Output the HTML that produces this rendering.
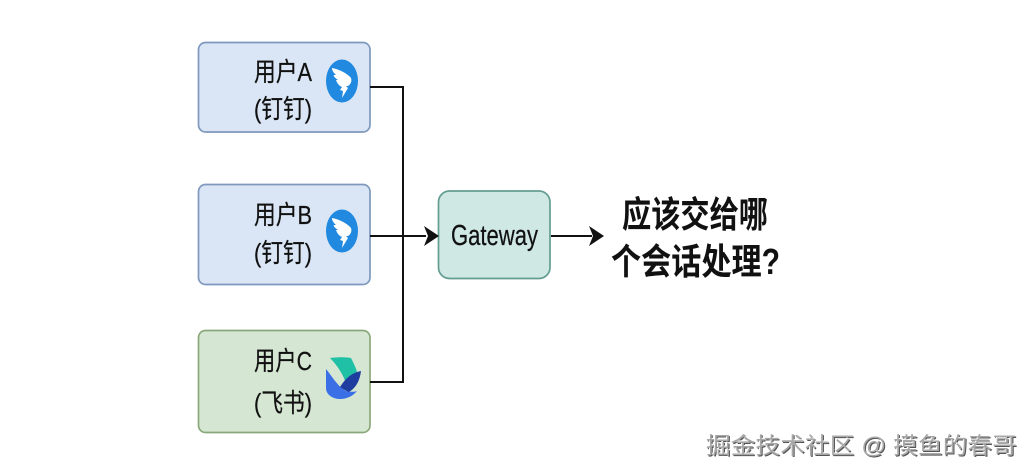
<!DOCTYPE html>
<html><head><meta charset="utf-8">
<style>
html,body{margin:0;padding:0;background:#fff}
svg{display:block;filter:blur(0.35px)}
text{font-family:"Liberation Sans","Noto Sans CJK SC",sans-serif;fill:#111}
.u{stroke:#111;stroke-width:.25px}
</style></head>
<body>
<svg width="1032" height="476" viewBox="0 0 1032 476" xmlns="http://www.w3.org/2000/svg">
<defs>
<g id="ding">
<ellipse cx="0" cy="0" rx="16" ry="21.5" fill="#2189e0"/>
<path d="M-10,-13 C-4,-12 5,-8 9,-3 C10,0 9,3 6,5 L4,5 L6,7 L0,17 L1,10 L-2,9 L0,6 C-3,5 -5,2 -6,-1 L-4,-1 C-7,-3 -9,-5 -8,-6 L-6,-6 C-8,-8 -10,-10 -10,-13Z" fill="#fff"/>
</g>
</defs>
<rect width="1032" height="476" fill="#fff"/>

<rect x="198.5" y="42.5" width="171.5" height="89.5" rx="7" fill="#dae6f5" stroke="#7f98bd" stroke-width="1.7"/>
<rect x="198.5" y="184.5" width="171.5" height="100" rx="7" fill="#dae6f5" stroke="#7f98bd" stroke-width="1.7"/>
<rect x="198.5" y="330.5" width="171.5" height="102" rx="7" fill="#d5e7d2" stroke="#8aa87c" stroke-width="1.7"/>
<rect x="438.5" y="191" width="111.5" height="87.5" rx="11" fill="#cfe8e4" stroke="#639d92" stroke-width="1.7"/>

<path d="M370,87 H403 V382 H370 M370,236 H426 M551,236 H592" fill="none" stroke="#111" stroke-width="2"/>
<path d="M439,236 L424,226 L428,236 L424,246Z" fill="#111"/>
<path d="M604,236 L589,226 L593,236 L589,246Z" fill="#111"/>

<g class="u">
<text class="u" x="254" y="81" font-size="26" textLength="58" lengthAdjust="spacingAndGlyphs">用户A</text>
<text class="u" x="254" y="118" font-size="26" textLength="58" lengthAdjust="spacingAndGlyphs">(钉钉)</text>
<text class="u" x="254" y="224" font-size="26" textLength="58" lengthAdjust="spacingAndGlyphs">用户B</text>
<text class="u" x="254" y="262" font-size="26" textLength="58" lengthAdjust="spacingAndGlyphs">(钉钉)</text>
<text class="u" x="254" y="370" font-size="26" textLength="58" lengthAdjust="spacingAndGlyphs">用户C</text>
<text class="u" x="254" y="412" font-size="26" textLength="58" lengthAdjust="spacingAndGlyphs">(飞书)</text>
</g>

<use href="#ding" x="342" y="81"/>
<use href="#ding" x="342" y="231"/>

<path d="M330,358 C338,357 345,357 351,358 C354,364 356,368 357,372 L347,386 C344,376 338,366 330,358Z" fill="#1fc0a5"/>
<path d="M326,369 C332,376 337,386 346,391 C350,392 354,392 357,391 C353,396 347,399 340,399 C332,399 326,394 326,388Z" fill="#3b6fe6"/>
<path d="M340,387 C345,379 351,373 361,371 C360,380 356,388 349,392 C346,391 343,389 340,387Z" fill="#1f3d9e"/>

<text class="u" x="451" y="245" font-size="29" textLength="87" lengthAdjust="spacingAndGlyphs">Gateway</text>

<text x="622" y="227" font-size="36" font-weight="700" textLength="146" lengthAdjust="spacingAndGlyphs">应该交给哪</text>
<text x="611" y="274" font-size="36" font-weight="700" textLength="169" lengthAdjust="spacingAndGlyphs">个会话处理?</text>

<text x="707" y="454.5" font-size="23" style="fill:#555" textLength="311" lengthAdjust="spacingAndGlyphs">掘金技术社区 @ 摸鱼的春哥</text>
<text x="705" y="452.5" font-size="23" style="fill:#fff" textLength="311" lengthAdjust="spacingAndGlyphs">掘金技术社区 @ 摸鱼的春哥</text>
<text x="706" y="453.5" font-size="23" style="fill:#a8a8a8" textLength="311" lengthAdjust="spacingAndGlyphs">掘金技术社区 @ 摸鱼的春哥</text>
</svg>
</body></html>
